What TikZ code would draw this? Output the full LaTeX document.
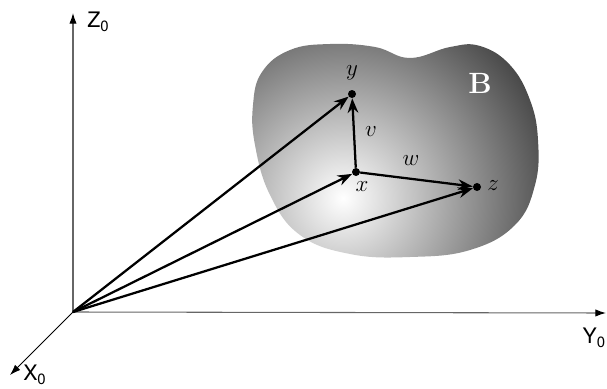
\documentclass[tikz,border=0pt]{standalone}
\usepackage{fontspec}
\setsansfont{TeX Gyre Heros}
\usetikzlibrary{arrows.meta}

\tikzset{
  pt/.style={circle, fill=black, inner sep=0pt, minimum size=6pt},
  vec/.style={line width=1.7pt, -{Stealth[length=11pt,width=8pt]}},
  axis/.style={draw=black!60, line width=0.8pt, -{Latex[length=8pt,width=5.5pt,color=black]}},
  axlabel/.style={font=\sffamily\fontsize{16}{18}\selectfont, inner sep=0pt},
  lbl/.style={font=\fontsize{18}{20}\selectfont, inner sep=0pt}
}

\begin{document}
\begin{tikzpicture}[x=0.75pt,y=-0.75pt]
 \useasboundingbox (0,0) rectangle (607,389);

 % body B
 \begin{scope}
  \clip plot[smooth cycle, tension=0.7] coordinates {
    (330,44) (290,50) (262,72) (253,105) (255,145) (270,195) (300,235)
    (350,254) (410,257) (470,250) (515,225) (535,185) (538,140)
    (530,100) (510,65) (480,46) (450,47) (410,58) (375,47)};
  \shade[inner color=white, outer color=black] (343,198) circle (300);
 \end{scope}
 \node[lbl, text=white, font=\bfseries\fontsize{22}{26}\selectfont] (B) at (480,83) {B};

 % frame
 \coordinate (O) at (73,312);
 \coordinate (Z) at (73,13);
 \coordinate (Y) at (606,313);
 \coordinate (X) at (10,375);
 \draw[axis] (O) -- (Z);
 \draw[axis] (O) -- (Y);
 \draw[axis, draw=black, line width=0.6pt] (O) -- (X);
 \node[axlabel, anchor=west] (Zlab) at (87,22) {Z\textsubscript{0}};
 \node[axlabel, anchor=east] (Ylab) at (606,338) {Y\textsubscript{0}};
 \node[axlabel, anchor=west] (Xlab) at (23,375) {X\textsubscript{0}};

 % points
 \node[pt] (y) at (352,94) {};
 \node[pt] (x) at (356,172) {};
 \node[pt] (z) at (477,187) {};
 \node[lbl] (ylab) at (352,73) {$y$};
 \node[lbl] (xlab) at (362,187) {$x$};
 \node[lbl] (zlab) at (493,186) {$z$};

 % vectors
 \draw[vec] (O) -- (y);
 \draw[vec] (O) -- (x);
 \draw[vec] (O) -- (z);
 \draw[vec] (x) -- (y);
 \draw[vec] (x) -- (z);
 \node[lbl] (vlab) at (371,132) {$v$};
 \node[lbl] (wlab) at (411,161) {$w$};
\end{tikzpicture}
\end{document}
